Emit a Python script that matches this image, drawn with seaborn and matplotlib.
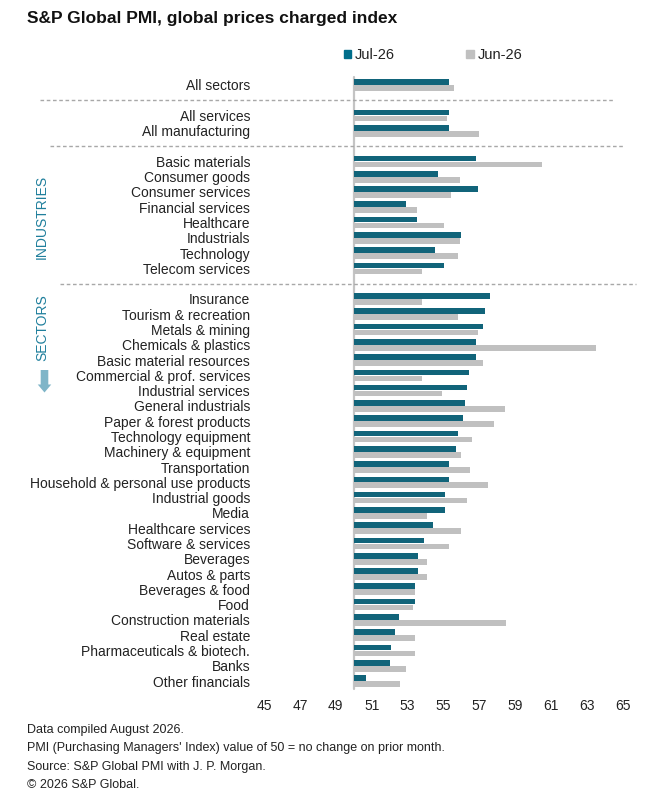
import matplotlib
matplotlib.use("Agg")
import matplotlib.pyplot as plt
import matplotlib.patches as mpatches
import matplotlib.transforms as mtrans
import numpy as np
import pandas as pd
import seaborn as sns

# ---------------- data ----------------
top_cats = ["All sectors"]
top_jul = [55.3]
top_jun = [55.6]

broad_cats = ["All services", "All manufacturing"]
broad_jul = [55.3, 55.3]
broad_jun = [55.2, 57.0]

industry_cats = ["Basic materials", "Consumer goods", "Consumer services",
                 "Financial services", "Healthcare", "Industrials",
                 "Technology", "Telecom services"]
industry_jul = [56.8, 54.7, 56.9, 52.9, 53.5, 56.0, 54.5, 55.0]
industry_jun = [60.5, 55.9, 55.4, 53.5, 55.0, 55.9, 55.8, 53.8]

sector_cats = ["Insurance", "Tourism & recreation", "Metals & mining",
               "Chemicals & plastics", "Basic material resources",
               "Commercial & prof. services", "Industrial services",
               "General industrials", "Paper & forest products",
               "Technology equipment", "Machinery & equipment",
               "Transportation", "Household & personal use products",
               "Industrial goods", "Media", "Healthcare services",
               "Software & services", "Beverages", "Autos & parts",
               "Beverages & food", "Food", "Construction materials",
               "Real estate", "Pharmaceuticals & biotech.", "Banks",
               "Other financials"]
sector_jul = [57.6, 57.3, 57.2, 56.8, 56.8, 56.4, 56.3, 56.2, 56.1, 55.8,
              55.7, 55.3, 55.3, 55.1, 55.1, 54.4, 53.9, 53.6, 53.6, 53.4,
              53.4, 52.5, 52.3, 52.1, 52.0, 50.7]
sector_jun = [53.8, 55.8, 56.9, 63.5, 57.2, 53.8, 54.9, 58.4, 57.8, 56.6,
              56.0, 56.5, 57.5, 56.3, 54.1, 56.0, 55.3, 54.1, 54.1, 53.4,
              53.3, 58.5, 53.4, 53.4, 52.9, 52.6]

series_names = ["Jul-26", "Jun-26"]
x_ticks = [45, 47, 49, 51, 53, 55, 57, 59, 61, 63, 65]
baseline = 50

# ---------------- build table ----------------
groups = [(top_cats, top_jul, top_jun), (broad_cats, broad_jul, broad_jun),
          (industry_cats, industry_jul, industry_jun),
          (sector_cats, sector_jul, sector_jun)]
order = []
rows = []
for gi, (cats, jul, jun) in enumerate(groups):
    if gi > 0:
        order.append(" " * gi)  # blank separator row
    for c, a, b in zip(cats, jul, jun):
        order.append(c)
        rows.append({"category": c, "series": series_names[0], "value": a})
        rows.append({"category": c, "series": series_names[1], "value": b})
df = pd.DataFrame(rows)
df["delta"] = df["value"] - baseline

# ---------------- style ----------------
sns.set_theme(style="white")
plt.rcParams["font.family"] = ["Liberation Sans", "DejaVu Sans"]

W, H = 657, 810
fig = plt.figure(figsize=(W / 100, H / 100), dpi=100)

row0_px, row_last_px = 85.0, 681.0
n_rows = len(order)
row_h = (row_last_px - row0_px) / (n_rows - 1)
y_top_lim, y_bot_lim = -0.8, n_rows - 0.0
ax_top_px = row0_px + y_top_lim * row_h
ax_bot_px = row0_px + y_bot_lim * row_h
ax_left_px, ax_right_px = 264.0, 623.0
ax = fig.add_axes([ax_left_px / W, 1 - ax_bot_px / H,
                   (ax_right_px - ax_left_px) / W, (ax_bot_px - ax_top_px) / H])

jul_color = "#006e8b"
jun_color = "#c0c0c0"

sns.barplot(data=df, y="category", x="delta", hue="series", order=order,
            hue_order=series_names, palette=[jul_color, jun_color],
            orient="y", width=0.78, gap=0.05, dodge=True, left=baseline,
            legend=False, ax=ax, linewidth=0)

ax.set_xlim(45, 65)
ax.set_ylim(y_bot_lim, y_top_lim)
ax.set_xticks(x_ticks)
ax.set_xticklabels([str(t) for t in x_ticks])
ax.set_xlabel("")
ax.set_ylabel("")
for s in ax.spines.values():
    s.set_visible(False)
ax.tick_params(axis="x", length=0, pad=2, labelsize=10, colors="#222222")
ax.tick_params(axis="y", length=0, pad=10, labelsize=10, colors="#222222")
ax.grid(False)

# baseline vertical line
ax.plot([baseline, baseline], [-0.55, n_rows - 0.45], color="#c4c4c4", lw=1.6,
        zorder=0.5, clip_on=False)

# dashed separators on blank rows
blend = mtrans.blended_transform_factory(fig.transFigure, ax.transData)
sep_extents = [(40, 615), (50, 623), (60, 636)]
blank_rows = [i for i, c in enumerate(order) if c.strip() == ""]
for (x0, x1), r in zip(sep_extents, blank_rows):
    ax.plot([x0 / W, x1 / W], [r, r], transform=blend, color="#a8a8a8",
            lw=1.0, dashes=(2.6, 1.9), clip_on=False)

# legend
handles = [mpatches.Patch(color=jul_color, label=series_names[0]),
           mpatches.Patch(color=jun_color, label=series_names[1])]
fig.legend(handles=handles, loc="center left",
           bbox_to_anchor=(344 / W, 1 - 55 / H), ncol=2, frameon=False,
           fontsize=10.5, handlelength=0.5, handleheight=0.5,
           handletextpad=0.25, columnspacing=4.9, borderpad=0,
           borderaxespad=0, labelcolor="#222222")

# title
fig.text(27 / W, 1 - 18 / H, "S&P Global PMI, global prices charged index",
         fontsize=12.5, fontweight="bold", ha="left", va="center",
         color="#111111")

# side labels
side_color = "#1f7f9c"
fig.text(42 / W, 1 - 217 / H, "INDUSTRIES", rotation=90, fontsize=10,
         color=side_color, ha="center", va="center")
fig.text(42 / W, 1 - 328 / H, "SECTORS", rotation=90, fontsize=10,
         color=side_color, ha="center", va="center")
arrow = mpatches.FancyArrow(44.5 / W, 1 - 370 / H, 0, -22.5 / H,
                            width=7.6 / W, head_width=13.5 / W,
                            head_length=8 / H, length_includes_head=True,
                            transform=fig.transFigure, color="#7fb5c8",
                            linewidth=0)
fig.patches.append(arrow)

# footer
footer = ["Data compiled August 2026.",
          "PMI (Purchasing Managers' Index) value of 50 = no change on prior month.",
          "Source: S&P Global PMI with J. P. Morgan.",
          "\u00a9 2026 S&P Global."]
for txt, ypx in zip(footer, [730, 748.5, 767, 785.5]):
    fig.text(27 / W, 1 - ypx / H, txt, fontsize=9, ha="left", va="center",
             color="#222222")

fig.savefig("out.png", dpi=100)
